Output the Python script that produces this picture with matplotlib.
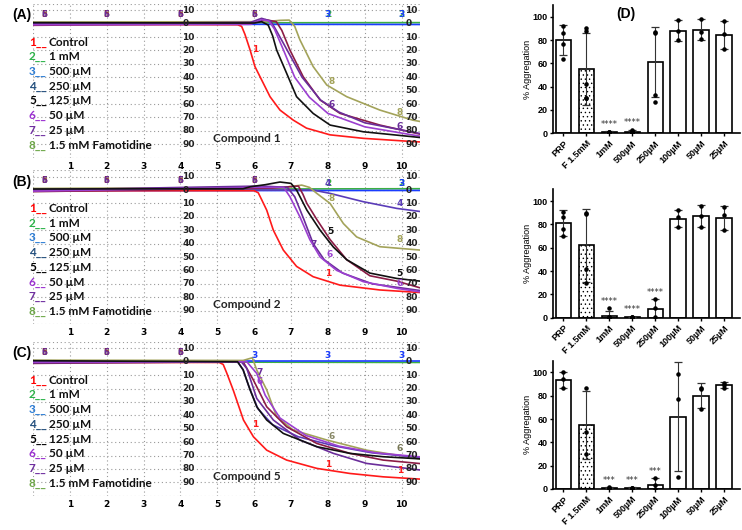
import matplotlib
matplotlib.use('Agg')
import matplotlib.pyplot as plt

# ---------------- aggregation traces (time in min, % aggregation) ----------------
# panel A - compound 1
A_red = [(0, 0.5), (5.55, 0.8), (5.66, 2), (5.75, 8), (5.89, 19.7), (6.02, 32), (6.25, 44.6), (6.43, 54.5),
         (6.7, 64.5), (7.06, 72), (7.42, 78), (8.06, 83), (8.96, 85.6), (10.3, 88), (10.5, 88.3)]
A_green = [(0, -0.5), (10.5, -0.8)]
A_blue = [(0, 0.3), (10.5, 0.6)]
A_black = [(0, -0.8), (6.0, -0.5), (6.2, -1.5), (6.38, 1), (6.5, 9), (6.61, 19.7), (6.88, 37), (7.15, 54.5),
           (7.6, 67), (8.06, 75.7), (8.96, 80.7), (10.3, 84.4), (10.5, 85)]
A_purple = [(0, 0.8), (5.9, 0.5), (6.2, -3), (6.4, -2), (6.55, 4), (6.8, 20), (7.1, 40), (7.5, 55),
            (8.0, 67), (9.0, 77), (10.5, 84)]
A_violet = [(0, 0), (5.9, -1), (6.2, -4), (6.45, -2), (6.6, 5), (6.9, 20), (7.3, 40), (7.8, 57),
            (8.3, 66), (9.0, 74), (10.5, 82)]
A_maroon = [(0, 1.2), (5.9, 0), (6.3, -3), (6.6, -1.5), (6.75, 5), (6.97, 19.7), (7.33, 39.6),
            (7.79, 57), (8.33, 67), (9.41, 75.7), (10.5, 82.5)]
A_olive = [(0, -1.2), (6.3, -1.5), (6.7, -2.5), (6.95, -2.7), (7.1, 2), (7.24, 12), (7.6, 32),
           (7.97, 45.8), (8.51, 54.5), (9.41, 64.5), (10.3, 72), (10.5, 73)]

# panel B - compound 2
B_red = [(0, 0.5), (6.0, 0.5), (6.11, 2), (6.2, 7), (6.34, 15), (6.52, 30), (6.79, 44.8), (7.15, 57),
         (7.6, 64.7), (8.33, 71), (9.41, 74.6), (10.5, 76.5)]
B_green = [(0, -0.5), (10.5, -1)]
B_blue = [(0, 0.5), (10.5, 0.3)]
B_black = [(0, -0.8), (5.7, -1), (5.9, -2.5), (6.3, -4), (6.7, -6), (7.0, -5), (7.15, 0), (7.43, 15),
           (7.79, 30), (8.15, 42.6), (8.51, 52), (9.14, 62), (9.87, 66), (10.5, 68)]
B_maroon = [(0, 1.2), (6.5, -1.5), (7.2, -3), (7.32, 3), (7.43, 10), (7.7, 22), (8.06, 37), (8.51, 52),
            (9.14, 64), (9.87, 68), (10.5, 73)]
B_purple = [(0, 0.8), (6.0, -2), (6.8, -2), (6.97, 5), (7.24, 20), (7.51, 37), (7.79, 50), (8.24, 60),
            (8.96, 68.4), (9.87, 73.4), (10.5, 76)]
B_violet = [(0, 0), (6.2, -3), (6.9, -2), (7.1, 5), (7.35, 22), (7.6, 40), (7.9, 52), (8.4, 62),
            (9.2, 70), (10.5, 75)]
B_indigo = [(0, 0), (7.6, 0), (8.06, 2.5), (8.96, 8.7), (9.87, 13.7), (10.5, 16)]
B_olive = [(0, -1.2), (6.8, -2), (7.29, -3.7), (7.5, -2), (7.7, 2.5), (8.06, 10), (8.42, 25),
           (8.78, 35), (9.41, 42.3), (10.5, 44.8)]

# panel C - compound 5
C_red = [(0, 0.5), (5.05, 0.5), (5.16, 2), (5.25, 8), (5.43, 21), (5.71, 43.5), (5.98, 56), (6.34, 66),
         (6.88, 73.4), (7.7, 79.6), (8.6, 83.4), (9.5, 85.9), (10.5, 87.6)]
C_green = [(0, 0), (10.5, 0.5)]
C_blue = [(0, -0.3), (10.5, -0.3)]
C_black = [(0, -0.8), (5.55, 0), (5.7, 6), (5.89, 21), (6.07, 33.6), (6.34, 43.5), (6.79, 53.5),
           (7.7, 63.4), (8.6, 68.4), (9.5, 70.9), (10.5, 72.5)]
C_olive = [(0, -1.2), (5.7, -1), (5.95, -3), (6.07, 6.2), (6.34, 21), (6.61, 41), (7.06, 51),
           (7.97, 58.4), (9.05, 66), (10.5, 72.5)]
C_indigo = [(0, 0), (5.55, 0), (5.7, 6), (5.85, 18), (6.1, 35), (6.5, 47), (7.2, 56), (8.2, 63),
            (9.2, 68), (10.5, 71.5)]
C_violet = [(0, 0.8), (5.65, 0), (5.8, 5), (6.07, 27.4), (6.52, 43.5), (7.24, 58.4), (8.15, 68.4),
            (9.05, 75.9), (10.5, 80.8)]
C_maroon = [(0, 1.2), (5.7, 0), (5.98, 13.7), (6.34, 33.6), (6.88, 48.5), (7.7, 61), (8.6, 68.4),
            (9.5, 73.4), (10.5, 76)]
C_purple = [(0, 0.3), (5.8, 0), (6.07, 8.7), (6.3, 25), (6.7, 42), (7.4, 55), (8.3, 63), (9.3, 68),
            (10.5, 71)]

legend_nums = ['1', '2', '3', '4', '5', '6', '7', '8']
legend_names = ['Control', '1 mM', '500 µM', '250 µM', '125 µM', '50 µM', '25 µM', '1.5 mM Famotidine']
compound_names = ['Compound 1', 'Compound 2', 'Compound 5']

# ---------------- bar data (% aggregation) ----------------
bar_labels = ['PRP', 'F 1.5mM', '1mM', '500µM', '250µM', '100µM', '50µM', '25µM']

c1_mean = [80, 55, 1, 1.5, 61.5, 88, 89, 84.5]
c1_err = [13, 31, 0.8, 1.5, 30, 9, 9, 12]
c1_points = [[92, 86, 77, 64], [90, 88, 42, 30, 30], [0.5, 1, 1.5, 0.8], [0, 1, 3, 2, 0.5],
             [87, 86, 33, 27], [97, 88, 80], [98, 87, 81], [96, 85, 72]]
c1_stars = ['', '', '****', '****', '', '', '', '']

c2_mean = [81, 62, 1.5, 0.5, 7.5, 85, 87, 85.5]
c2_err = [11, 31, 4.5, 0.5, 8.5, 7.5, 9.5, 10.5]
c2_points = [[91, 86, 76, 70], [90, 89, 42, 30], [8, 1, 0, 0, 0.5], [0.5, 0, 1, 0.5],
             [16, 8, 0.8], [92, 86, 78], [96, 87, 78], [95, 88, 75]]
c2_stars = ['', '', '****', '****', '****', '', '', '']

c5_mean = [93.5, 55, 1, 1, 3.5, 62, 80, 89]
c5_err = [6.5, 29, 0.5, 0.5, 5.5, 46.5, 10.5, 2.5]
c5_points = [[100, 94, 87], [87, 49, 30], [1, 0.5, 1.5], [1, 0.5, 1], [9, 3, 0],
             [99, 77, 10], [87, 86, 69], [91, 89, 87]]
c5_stars = ['', '', '***', '***', '***', '', '', '']

# ---------------- colours ----------------
leg_colors = ['#ff0000', '#2db34a', '#2f7fd6', '#24507f', '#000000', '#9b30d0', '#7030a0', '#6fa84a']
red, green, blue = '#ff1a1a', '#3cb043', '#1a3cff'
black, purple, violet = '#111111', '#9b3fd0', '#6a2d9a'
maroon, olive, indigo = '#8b1c45', '#a3a35a', '#5a3cb8'

fig = plt.figure(figsize=(7.42, 5.30), dpi=100)

trace_sets = [
    [(A_green, green), (A_blue, blue), (A_red, red), (A_olive, olive), (A_maroon, maroon),
     (A_violet, violet), (A_purple, purple), (A_black, black)],
    [(B_green, green), (B_blue, blue), (B_indigo, indigo), (B_red, red), (B_olive, olive),
     (B_maroon, maroon), (B_violet, violet), (B_purple, purple), (B_black, black)],
    [(C_green, green), (C_blue, blue), (C_red, red), (C_olive, olive), (C_indigo, indigo),
     (C_maroon, maroon), (C_violet, violet), (C_purple, purple), (C_black, black)],
]

# event markers along the top of each trace panel (minutes)
event_times = [[0.3, 2.0, 4.0, 6.0], [0.3, 2.0, 4.0, 6.0], [0.3, 2.0, 4.0]]

# curve labels drawn on the traces: (t, value, text, colour)
curve_marks = [
    [(6.02, 19, '1', red), (8.1, 43, '8', olive), (9.95, 66, '8', olive),
     (8.0, -6.5, '2', green), (8.0, -6.5, '3', blue), (10.0, -6.5, '2', green), (10.0, -6.5, '3', blue),
     (8.1, 60, '6', violet), (9.95, 77, '6', violet)],
    [(8.02, 62, '1', red), (8.06, 48, '6', purple), (8.06, 31, '5', black), (7.6, 41, '7', violet),
     (8.1, 6, '8', olive), (9.95, 37, '8', olive), (9.95, 10, '4', indigo), (9.95, 62, '5', black),
     (9.95, 70, '6', purple), (8.0, -5, '2', green), (8.0, -5, '4', indigo), (10.0, -5, '2', green),
     (10.0, -5, '3', blue)],
    [(6.02, 47, '1', red), (8.01, 77, '1', red), (9.95, 81, '1', red), (8.1, 56, '6', '#888866'),
     (9.95, 65, '6', '#777755'), (6.0, -5, '3', blue), (8.0, -5, '3', blue), (10.0, -5, '3', blue),
     (6.15, 8, '7', violet), (6.15, 14.5, '6', purple)],
]

grid_style = dict(color='#999999', linestyle=(0, (1, 2.5)), linewidth=0.8)
trace_bottoms = [0.7026, 0.3887, 0.0647]
for k in range(3):
    ax = fig.add_axes([0.0445, trace_bottoms[k], 0.5216, 0.2906])
    ax.set_xlim(0, 10.5)
    ax.set_ylim(100, -15)
    for sp in ax.spines.values():
        sp.set_visible(False)
    ax.set_xticks(range(0, 11))
    ax.set_xticklabels([''] + [str(i) for i in range(1, 11)], fontsize=6.5, fontweight='bold')
    ax.set_yticks(range(-10, 100, 10))
    ax.set_yticklabels([])
    ax.tick_params(length=0, pad=3)
    ax.grid(True, **grid_style)
    ax.axhline(-15, **grid_style)
    ax.axhline(100, **grid_style)

    for v in range(-10, 100, 10):
        lab = str(abs(v))
        ax.text(4.05, v, lab, fontsize=6.5, fontweight='bold', ha='left', va='center', color='#222222')
        ax.text(10.1, v, lab, fontsize=6.5, fontweight='bold', ha='left', va='center', color='#222222')

    for pts, col in trace_sets[k]:
        ax.plot([p[0] for p in pts], [p[1] for p in pts], color=col, linewidth=1.2)

    for t in event_times[k]:
        for d, col in [('8', olive), ('5', maroon), ('6', violet)]:
            ax.text(t, -7, d, fontsize=6, fontweight='bold', color=col, ha='center', va='center')

    for t, v, s, col in curve_marks[k]:
        ax.text(t, v, s, fontsize=6.5, fontweight='bold', color=col, ha='center', va='center')

    # legend
    for i in range(8):
        y = 13.7 + 11 * i
        ax.text(-0.11, y, legend_nums[i] + '__', color=leg_colors[i], fontsize=8.5,
                fontweight='bold', family='Lato', ha='left', va='center')
        ax.text(0.43, y, legend_names[i], color='#111111', fontsize=8.5,
                fontweight='bold', family='Lato', ha='left', va='center')

    ax.text(4.88, 85.4, compound_names[k], fontsize=8.5, fontweight='bold', family='Lato',
            ha='left', va='center', color='#222222')

for tag, ypx, xpx in [('(A)', 15, 22), ('(B)', 182, 22), ('(C)', 353, 22), ('(D)', 14, 626)]:
    fig.text(xpx / 742, 1 - ypx / 530, tag, fontsize=10, fontweight='bold', family='Liberation Sans',
             ha='center', va='center')

# ---------------- bar panels ----------------
plt.rcParams['hatch.linewidth'] = 0.5
bar_sets = [(c1_mean, c1_err, c1_points, c1_stars),
            (c2_mean, c2_err, c2_points, c2_stars),
            (c5_mean, c5_err, c5_points, c5_stars)]
bar_bottoms = [0.7485, 0.4006, 0.0774]
for k in range(3):
    means, errs, points, stars = bar_sets[k]
    bx = fig.add_axes([0.7453, bar_bottoms[k], 0.252, 0.242])
    xs = list(range(len(bar_labels)))
    bars = bx.bar(xs, means, width=0.66, color='white', edgecolor='black', linewidth=1.2, zorder=2)
    bars[1].set_hatch('....')
    bx.errorbar(xs, means, yerr=errs, fmt='none', ecolor='#333333', elinewidth=0.8,
                capsize=3, capthick=0.9, zorder=3)
    for i, pts in enumerate(points):
        bx.scatter([xs[i]] * len(pts), pts, s=5, color='black', zorder=4)
        if stars[i]:
            top = max(means[i] + errs[i], max(pts))
            bx.text(xs[i], top + 2, stars[i], fontsize=6, ha='center', va='bottom', color='#333333')
    bx.set_xlim(-0.45, 7.7)
    bx.set_ylim(0, 110)
    bx.set_yticks([0, 20, 40, 60, 80, 100])
    bx.set_xticks(xs)
    bx.set_xticklabels(bar_labels, rotation=45, ha='right', rotation_mode='anchor',
                       fontsize=6.5, fontweight='bold', family='Liberation Sans')
    for lab in bx.get_yticklabels():
        lab.set_fontsize(6.5)
        lab.set_fontweight('bold')
        lab.set_family('Liberation Sans')
    bx.tick_params(axis='both', length=2.5, width=1, pad=1.5)
    bx.spines['top'].set_visible(False)
    bx.spines['right'].set_visible(False)
    bx.spines['left'].set_linewidth(1.2)
    bx.spines['bottom'].set_linewidth(1.2)
    bx.set_ylabel('% Aggregation', fontsize=6.5, family='Liberation Sans')
    bx.yaxis.set_label_coords(-0.11, 0.5)

fig.savefig('out.png', dpi=100)
